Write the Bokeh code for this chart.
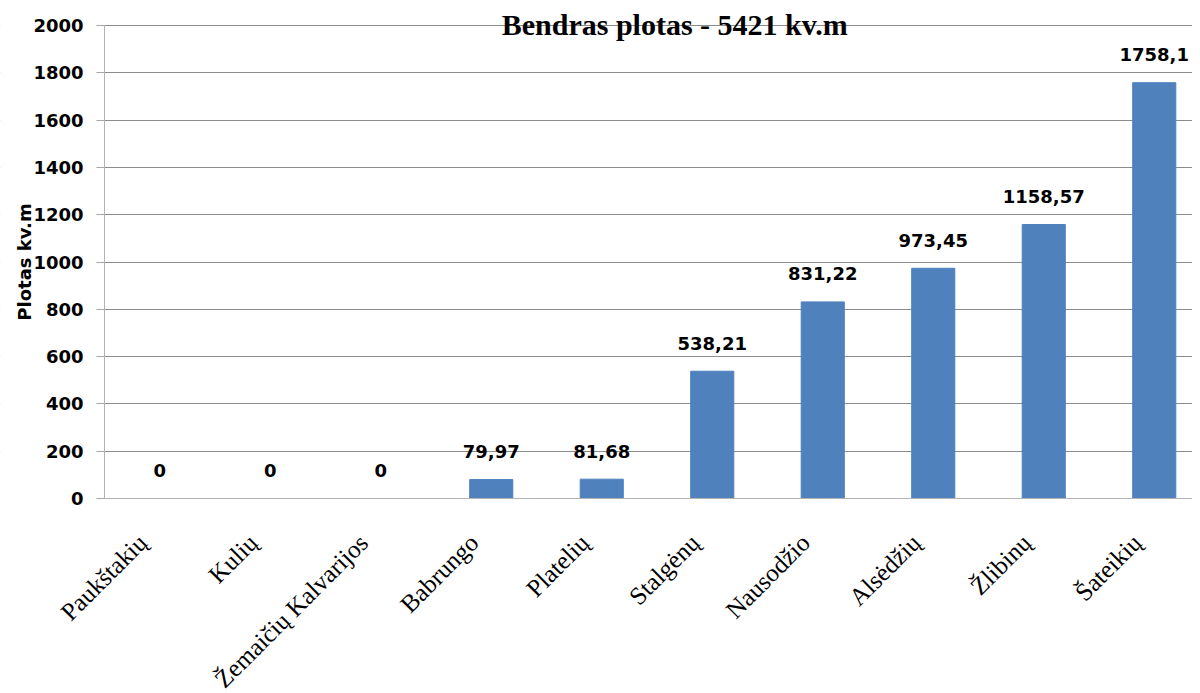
import numpy as np
from bokeh.plotting import figure
from bokeh.models import (Range1d, FixedTicker, LabelSet, Label, ColumnDataSource,
                          BoxAnnotation)
from bokeh.core.properties import value
from bokeh.embed import file_html
from bokeh.resources import INLINE

categories = ["Paukštakių", "Kulių", "Žemaičių Kalvarijos", "Babrungo", "Platelių",
              "Stalgėnų", "Nausodžio", "Alsėdžių", "Žlibinų", "Šateikių"]
values = [0, 0, 0, 79.97, 81.68, 538.21, 831.22, 973.45, 1158.57, 1758.1]
value_labels = ["0", "0", "0", "79,97", "81,68", "538,21", "831,22", "973,45", "1158,57", "1758,1"]
y_ticks = [0, 200, 400, 600, 800, 1000, 1200, 1400, 1600, 1800, 2000]
title_text = "Bendras plotas - 5421 kv.m"
y_label = "Plotas kv.m"

n = len(categories)
x_pos = [i + 0.5 for i in range(n)]
src = ColumnDataSource(dict(x=x_pos, top=values, lab=value_labels))

# layout (pixels)
W, H = 1192, 693
plot_left, plot_top, plot_bottom = 104, 25, 498
px_per_cat = 110.5
px_per_unit = (plot_bottom - plot_top) / 2000.0
x_end = (W - plot_left) / px_per_cat
x_start = -plot_left / px_per_cat
y_start = -(H - plot_bottom) / px_per_unit
y_end = 2000 + plot_top / px_per_unit

# category label anchors (right end of each rotated label)
cat_shift = 0.155
cat_drop = 40 / px_per_unit
cat_src = ColumnDataSource(dict(x=[x - cat_shift for x in x_pos], y=[-cat_drop] * n, t=categories))

p = figure(width=W, height=H, output_backend="svg", toolbar_location=None,
           x_range=Range1d(x_start, x_end), y_range=Range1d(y_start, y_end),
           min_border_left=0, min_border_right=0, min_border_top=0, min_border_bottom=0)
p.outline_line_color = None
p.background_fill_color = "white"
p.border_fill_color = "white"

p.xgrid.grid_line_color = None
p.ygrid.ticker = FixedTicker(ticks=[t for t in y_ticks if t > 0])
p.ygrid.grid_line_color = "#8c8c8c"
p.ygrid.grid_line_width = 1

# blank out grid lines left of the value axis
mask = BoxAnnotation(left=x_start - 1, right=0, bottom=y_start - 100, top=y_end + 100,
                     fill_color="white", fill_alpha=1.0, line_alpha=0, level="underlay")
p.add_layout(mask)

p.vbar(x="x", top="top", width=0.39, bottom=0, source=src,
       fill_color="#4F81BD", line_color="#4F81BD")

labels = LabelSet(x="x", y="top", text="lab", source=src, text_align="center",
                  text_baseline="middle", y_offset=28, text_font=value("DejaVu Sans"),
                  text_font_style="bold", text_font_size="18px", text_color="black")
p.add_layout(labels)

cat_labels = LabelSet(x="x", y="y", text="t", source=cat_src, angle=np.pi / 4,
                      text_align="right", text_baseline="middle",
                      text_font=value("Liberation Serif"), text_font_size="25px",
                      text_color="black")
p.add_layout(cat_labels)

title = Label(x=5.16, y=2000, text=title_text, text_align="center", text_baseline="middle",
              y_offset=1, text_font="Liberation Serif", text_font_style="bold",
              text_font_size="30px", text_color="black")
p.add_layout(title)

ylab = Label(x=-0.724, y=1000, text=y_label, angle=np.pi / 2, text_align="center",
             text_baseline="middle", text_font="DejaVu Sans", text_font_style="bold",
             text_font_size="18px", text_color="black")
p.add_layout(ylab)

# y axis (fixed at x = 0)
p.yaxis.fixed_location = 0
p.yaxis.ticker = FixedTicker(ticks=y_ticks)
p.yaxis.bounds = (0, 2000)
p.yaxis.minor_tick_line_color = None
p.yaxis.major_tick_in = 0
p.yaxis.major_tick_out = 8
p.yaxis.major_tick_line_color = "#a6a6a6"
p.yaxis.axis_line_color = "#b3b3b3"
p.yaxis.major_label_text_font = "DejaVu Sans"
p.yaxis.major_label_text_font_style = "bold"
p.yaxis.major_label_text_font_size = "18px"
p.yaxis.major_label_text_color = "black"
p.yaxis.major_label_standoff = 13

# category axis line (fixed at y = 0)
p.xaxis.fixed_location = 0
p.xaxis.bounds = (0, x_end)
p.xaxis.ticker = FixedTicker(ticks=[])
p.xaxis.major_tick_line_color = None
p.xaxis.minor_tick_line_color = None
p.xaxis.axis_line_color = "#b3b3b3"

open("out.html", "w").write(file_html(p, INLINE))
